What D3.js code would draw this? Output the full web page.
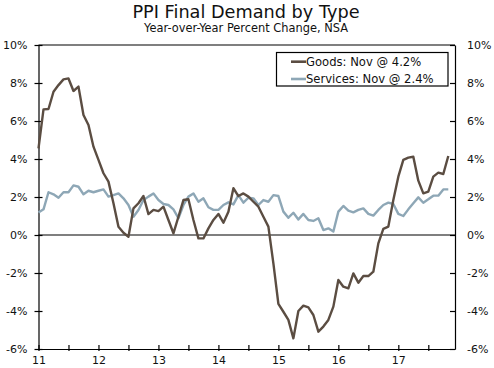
<!DOCTYPE html>
<html><head><meta charset="utf-8">
<script src="https://cdn.jsdelivr.net/npm/d3@7"></script>
<style>body{margin:0;background:#fff}svg{display:block}text{font-family:"DejaVu Sans",Verdana,sans-serif}</style>
</head><body><div id="chart"></div>
<script>
const startYear = 2011;
const goods = [4.56,6.61,6.63,7.54,7.89,8.19,8.24,7.58,7.81,6.32,5.79,4.65,
3.95,3.25,2.81,1.67,0.44,0.12,-0.09,1.40,1.67,2.05,1.10,1.32,
1.26,1.49,0.79,0.09,0.96,1.84,1.88,0.79,-0.18,-0.18,0.35,0.79,
1.11,0.65,1.23,2.46,2.05,2.19,2.02,1.75,1.49,0.96,0.44,-1.49,
-3.63,-4.04,-4.47,-5.44,-4.0,-3.72,-3.81,-4.21,-5.09,-4.82,-4.47,-3.77,
-2.37,-2.72,-2.81,-2.02,-2.51,-2.16,-2.16,-1.93,-0.44,0.32,0.44,1.84,
3.07,3.95,4.07,4.12,2.86,2.19,2.28,3.07,3.28,3.21,4.16];
const services = [1.18,1.35,2.25,2.14,1.96,2.25,2.25,2.61,2.54,2.14,2.33,2.25,
2.33,2.40,2.02,2.10,2.19,1.93,1.58,0.96,1.32,1.84,2.02,2.19,
1.84,1.63,1.58,1.35,0.88,1.58,2.02,2.19,1.75,1.93,1.46,1.32,
1.32,1.58,1.72,1.61,2.10,1.70,1.96,1.93,1.58,1.84,1.75,2.10,
2.05,1.23,0.91,1.17,0.82,1.11,0.79,0.74,0.88,0.26,0.35,0.18,
1.23,1.53,1.28,1.19,1.32,1.40,1.11,1.02,1.32,1.58,1.70,1.63,
1.11,1.00,1.35,1.67,1.98,1.70,1.88,2.07,2.07,2.40,2.40];
const yTicks = [-6,-4,-2,0,2,4,6,8,10];
const xTickLabels = ["11","12","13","14","15","16","17"];
const seriesNames = ["Goods: Nov @ 4.2%","Services: Nov @ 2.4%"];
const colors = ["#5b4d42","#8ea7b6"];

const W=494,H=368;
const svg=d3.select("#chart").append("svg").attr("width",W).attr("height",H);
const x=d3.scaleLinear().domain([0,83.34]).range([38.5,455]);
const y=d3.scaleLinear().domain([-6,10]).range([349,45]);

svg.append("text").attr("x",246).attr("y",18).attr("text-anchor","middle")
  .attr("font-size",17.7).attr("fill","#111").text("PPI Final Demand by Type");
svg.append("text").attr("x",246).attr("y",31.5).attr("text-anchor","middle")
  .attr("font-size",11.4).attr("fill","#111").text("Year-over-Year Percent Change, NSA");

// left axis
const la=svg.append("g").attr("transform","translate(38.5,0)")
  .call(d3.axisLeft(y).tickValues(yTicks).tickFormat(d=>d+"%").tickSizeInner(4).tickSizeOuter(0).tickPadding(7));
la.selectAll(".tick line").attr("x2",-4).attr("x1",4);
// right axis
const ra=svg.append("g").attr("transform","translate(455,0)")
  .call(d3.axisRight(y).tickValues(yTicks).tickFormat(d=>d+"%").tickSizeInner(-5).tickSizeOuter(0).tickPadding(12));
// bottom axis
const monthTicks=d3.range(0,84,6);
const ba=svg.append("g").attr("transform","translate(0,349)")
  .call(d3.axisBottom(x).tickValues(monthTicks).tickFormat(d=>d%12===0?xTickLabels[d/12]:"").tickSizeInner(-4).tickSizeOuter(0).tickPadding(7));
ba.selectAll(".tick line").attr("y1",2).attr("y2",-4);
[la,ra,ba].forEach(g=>{g.selectAll("text").attr("font-size",11).attr("fill","#111").attr("font-family","DejaVu Sans, Verdana, sans-serif");
  g.selectAll("line,path").attr("stroke","#000").attr("stroke-width",1.2);});
// top border
svg.append("line").attr("x1",38.5).attr("x2",455).attr("y1",y(10)).attr("y2",y(10)).attr("stroke","#000").attr("stroke-width",1.2);
// zero line
svg.append("line").attr("x1",38.5).attr("x2",455).attr("y1",y(0)).attr("y2",y(0)).attr("stroke","#000").attr("stroke-width",1.2);

const line=d3.line().x((d,i)=>x(i)).y(d=>y(d));
svg.append("path").datum(services).attr("d",line).attr("fill","none").attr("stroke",colors[1]).attr("stroke-width",2.4).attr("stroke-linejoin","round");
svg.append("path").datum(goods).attr("d",line).attr("fill","none").attr("stroke",colors[0]).attr("stroke-width",2.4).attr("stroke-linejoin","round");

// legend
const lg=svg.append("g");
lg.append("rect").attr("x",276.5).attr("y",52.5).attr("width",171.5).attr("height",33.5).attr("fill","#fff").attr("stroke","#000").attr("stroke-width",1.2);
seriesNames.forEach((n,i)=>{
  const yy=61.7+i*17.3;
  lg.append("line").attr("x1",291).attr("x2",306).attr("y1",yy).attr("y2",yy).attr("stroke",colors[i]).attr("stroke-width",2.6);
  lg.append("text").attr("x",306).attr("y",yy+4.2).attr("font-size",11.6).attr("fill","#111").text(n);
});
</script></body></html>
